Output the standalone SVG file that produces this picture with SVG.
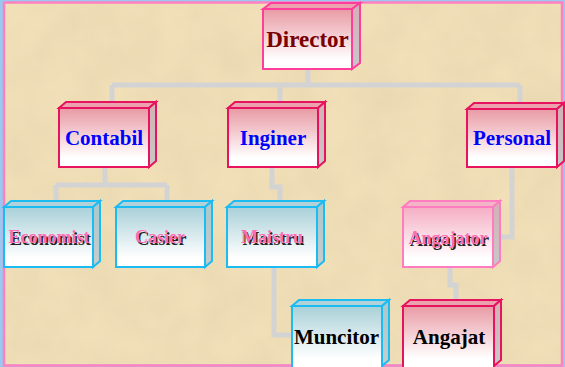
<svg xmlns="http://www.w3.org/2000/svg" width="565" height="367" viewBox="0 0 565 367">
<defs>
<linearGradient id="gRed" x1="0" y1="0" x2="0" y2="1"><stop offset="0" stop-color="#e99aa4"/><stop offset="0.85" stop-color="#ffffff"/></linearGradient>
<linearGradient id="gPink" x1="0" y1="0" x2="0" y2="1"><stop offset="0" stop-color="#f5aec4"/><stop offset="0.85" stop-color="#ffffff"/></linearGradient>
<linearGradient id="gBlue" x1="0" y1="0" x2="0" y2="1"><stop offset="0" stop-color="#a9d0d8"/><stop offset="0.85" stop-color="#ffffff"/></linearGradient>
<linearGradient id="gSide" x1="0" y1="0" x2="0" y2="1"><stop offset="0" stop-color="#d4b0b4"/><stop offset="1" stop-color="#c8c8c8"/></linearGradient>
<linearGradient id="gSideB" x1="0" y1="0" x2="0" y2="1"><stop offset="0" stop-color="#a8c8cc"/><stop offset="1" stop-color="#c8cccc"/></linearGradient>
<filter id="tex" x="0" y="0" width="100%" height="100%">
<feTurbulence type="fractalNoise" baseFrequency="0.025" numOctaves="3" seed="4"/>
<feColorMatrix type="matrix" values="0 0 0 0 0.6  0 0 0 0 0.5  0 0 0 0 0.3  0 0 0 0.3 -0.08"/>
</filter>
</defs>
<style>
.red{stroke:#e8135f;stroke-width:2}
.dir{stroke:#ff3d9a;stroke-width:2}
.pink{stroke:#ff7cc0;stroke-width:2}
.blue{stroke:#1cbcf2;stroke-width:2}
.topR{fill:#eca2ae}
.topP{fill:#f4b4c8}
.topB{fill:#b0d2d8}
.conn{fill:none;stroke:#d3d3d3;stroke-width:5}
.t{font-family:"Liberation Serif","Times New Roman",serif;font-weight:bold;text-anchor:middle}
.tb{fill:#0000ff;font-size:21px}
.tk{fill:#000000;font-size:21px}
.sh{fill:#222222;font-size:18px}
.pk{fill:#ff6eb4;font-size:18px}
</style>
<rect x="0" y="0" width="565" height="367" fill="#f1dfb8"/>
<rect x="0" y="0" width="565" height="367" filter="url(#tex)"/>
<rect x="1.5" y="1" width="562" height="365" fill="none" stroke="#99c8f0" stroke-width="3"/>
<rect x="4" y="2.5" width="558" height="363" fill="none" stroke="#ff80c0" stroke-width="2.5"/>

<g id="connectors">
<path class="conn" d="M308,69 V85 M112,85 H520 M112,85 V103 M280,85 V103 M520,85 V103"/>
<path class="conn" d="M105,167 V185 M56,185 H167 M56,185 V201 M167,185 V201"/>
<path class="conn" d="M272,167 V187 H280 V201"/>
<path class="conn" d="M274,267 V335 H292"/>
<path class="conn" d="M512,167 V237 H500"/>
<path class="conn" d="M450,267 V285 H456 V299"/>
</g>

<g id="director">
<polygon class="dir topR" points="263,9 271,3 360,3 352,9"/>
<polygon class="dir" fill="url(#gSide)" points="352,9 360,3 360,63 352,69"/>
<rect class="dir" x="263" y="9" width="89" height="60" fill="url(#gRed)"/>
<text class="t" x="307.5" y="47" font-size="23" fill="#7a0000">Director</text>
</g>

<g id="contabil">
<polygon class="red topR" points="59,108 66,102 156,102 149,108"/>
<polygon class="red" fill="url(#gSide)" points="149,108 156,102 156,161 149,167"/>
<rect class="red" x="59" y="108" width="90" height="59" fill="url(#gRed)"/>
<text class="t tb" x="104" y="145">Contabil</text>
</g>

<g id="inginer">
<polygon class="red topR" points="228,108 235,102 325,102 318,108"/>
<polygon class="red" fill="url(#gSide)" points="318,108 325,102 325,161 318,167"/>
<rect class="red" x="228" y="108" width="90" height="59" fill="url(#gRed)"/>
<text class="t tb" x="273" y="145">Inginer</text>
</g>

<g id="personal">
<polygon class="red topR" points="467,109 474,103 564,103 557,109"/>
<polygon class="red" fill="url(#gSide)" points="557,109 564,103 564,161 557,167"/>
<rect class="red" x="467" y="109" width="90" height="58" fill="url(#gRed)"/>
<text class="t tb" x="512" y="145">Personal</text>
</g>

<g id="economist">
<polygon class="blue topB" points="4,207 11,201 100,201 93,207"/>
<polygon class="blue" fill="url(#gSideB)" points="93,207 100,201 100,261 93,267"/>
<rect class="blue" x="4" y="207" width="89" height="60" fill="url(#gBlue)"/>
<text class="t sh" x="50.5" y="244.5">Economist</text>
<text class="t pk" x="49" y="243">Economist</text>
</g>

<g id="casier">
<polygon class="blue topB" points="116,207 123,201 212,201 205,207"/>
<polygon class="blue" fill="url(#gSideB)" points="205,207 212,201 212,261 205,267"/>
<rect class="blue" x="116" y="207" width="89" height="60" fill="url(#gBlue)"/>
<text class="t sh" x="161.5" y="244.5">Casier</text>
<text class="t pk" x="160" y="243">Casier</text>
</g>

<g id="maistru">
<polygon class="blue topB" points="227,207 234,201 324,201 317,207"/>
<polygon class="blue" fill="url(#gSideB)" points="317,207 324,201 324,261 317,267"/>
<rect class="blue" x="227" y="207" width="90" height="60" fill="url(#gBlue)"/>
<text class="t sh" x="273.5" y="244.5">Maistru</text>
<text class="t pk" x="272" y="243">Maistru</text>
</g>

<g id="angajator">
<polygon class="pink topP" points="403,207 410,201 500,201 493,207"/>
<polygon class="pink" fill="url(#gSide)" points="493,207 500,201 500,261 493,267"/>
<rect class="pink" x="403" y="207" width="90" height="60" fill="url(#gPink)"/>
<text class="t sh" x="449.5" y="245.5">Angajator</text>
<text class="t pk" x="448" y="244">Angajator</text>
</g>

<g id="muncitor">
<polygon class="blue topB" points="292,306 299,300 389,300 382,306"/>
<polygon class="blue" fill="url(#gSideB)" points="382,306 389,300 389,360 382,366"/>
<rect class="blue" x="292" y="306" width="90" height="62" fill="url(#gBlue)"/>
<text class="t tk" x="336.5" y="344">Muncitor</text>
</g>

<g id="angajat">
<polygon class="red topR" points="403,306 410,300 501,300 494,306"/>
<polygon class="red" fill="url(#gSide)" points="494,306 501,300 501,360 494,366"/>
<rect class="red" x="403" y="306" width="91" height="62" fill="url(#gRed)"/>
<text class="t tk" x="449" y="344">Angajat</text>
</g>
</svg>
